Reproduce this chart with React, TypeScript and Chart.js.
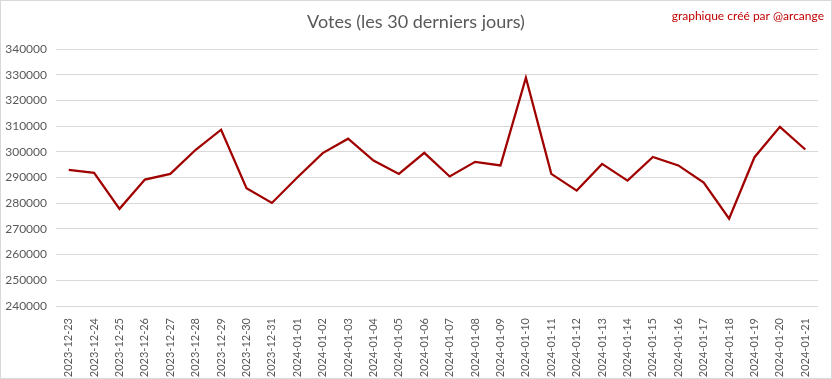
import React, { useEffect, useRef } from "react";
import { Chart, registerables } from "chart.js";

Chart.register(...registerables);

const categories: string[] = [
  "2023-12-23", "2023-12-24", "2023-12-25", "2023-12-26", "2023-12-27", "2023-12-28",
  "2023-12-29", "2023-12-30", "2023-12-31", "2024-01-01", "2024-01-02", "2024-01-03",
  "2024-01-04", "2024-01-05", "2024-01-06", "2024-01-07", "2024-01-08", "2024-01-09",
  "2024-01-10", "2024-01-11", "2024-01-12", "2024-01-13", "2024-01-14", "2024-01-15",
  "2024-01-16", "2024-01-17", "2024-01-18", "2024-01-19", "2024-01-20", "2024-01-21",
];

const votes: number[] = [
  293000, 291800, 277800, 289200, 291400, 300800,
  308600, 285800, 280100, 290000, 299500, 305100,
  296600, 291400, 299600, 290400, 296100, 294700,
  328800, 291400, 284900, 295300, 288800, 298000,
  294700, 288000, 274000, 297900, 309700, 300900,
];

const yMin = 240000;
const yMax = 340000;
const yStep = 10000;

const titleText = "Votes (les 30 derniers jours)";
const creditText = "graphique créé par @arcange";

export default function App() {
  const ref = useRef<HTMLCanvasElement | null>(null);

  useEffect(() => {
    if (!ref.current) return;
    const textPlugin = {
      id: "texts",
      afterDraw(chart: any) {
        const ctx = chart.ctx;
        ctx.save();
        ctx.fillStyle = "#595959";
        ctx.font = "18px Lato";
        ctx.textAlign = "center";
        ctx.textBaseline = "middle";
        ctx.fillText(titleText, 415, 21);
        ctx.fillStyle = "#c00000";
        ctx.font = "12px Lato";
        ctx.textAlign = "right";
        ctx.fillText(creditText, 823, 15);
        ctx.restore();
      },
    };
    const chart = new Chart(ref.current, {
      type: "line",
      data: {
        labels: categories,
        datasets: [
          {
            data: votes,
            borderColor: "#a00000",
            borderWidth: 2.25,
            pointRadius: 0,
            tension: 0,
            fill: false,
          },
        ],
      },
      options: {
        animation: false,
        responsive: false,
        layout: { padding: { left: 0, right: 13, top: 48, bottom: 0 } },
        plugins: { legend: { display: false }, title: { display: false }, tooltip: { enabled: false } },
        scales: {
          x: {
            offset: true,
            grid: { display: false },
            border: { display: false },
            ticks: {
              autoSkip: false,
              maxRotation: 90,
              minRotation: 90,
              color: "#595959",
              font: { family: "Lato", size: 11 },
              padding: 4,
            },
            afterFit(scale: any) {
              scale.height = 72;
            },
          },
          y: {
            min: yMin,
            max: yMax,
            grid: { color: "#d9d9d9", drawTicks: false, lineWidth: 1 },
            border: { display: false },
            ticks: {
              stepSize: yStep,
              color: "#595959",
              font: { family: "Lato", size: 12 },
              padding: 9,
              callback: (v: any) => String(v),
            },
            afterFit(scale: any) {
              scale.width = 55;
            },
          },
        },
      },
      plugins: [textPlugin],
    });
    return () => chart.destroy();
  }, []);

  return (
    <div
      style={{
        position: "fixed",
        left: 0,
        top: 0,
        width: 832,
        height: 379,
        boxSizing: "border-box",
        border: "1px solid #d9d9d9",
        background: "#fff",
      }}
    >
      <canvas ref={ref} width={830} height={377} style={{ display: "block" }} />
    </div>
  );
}
